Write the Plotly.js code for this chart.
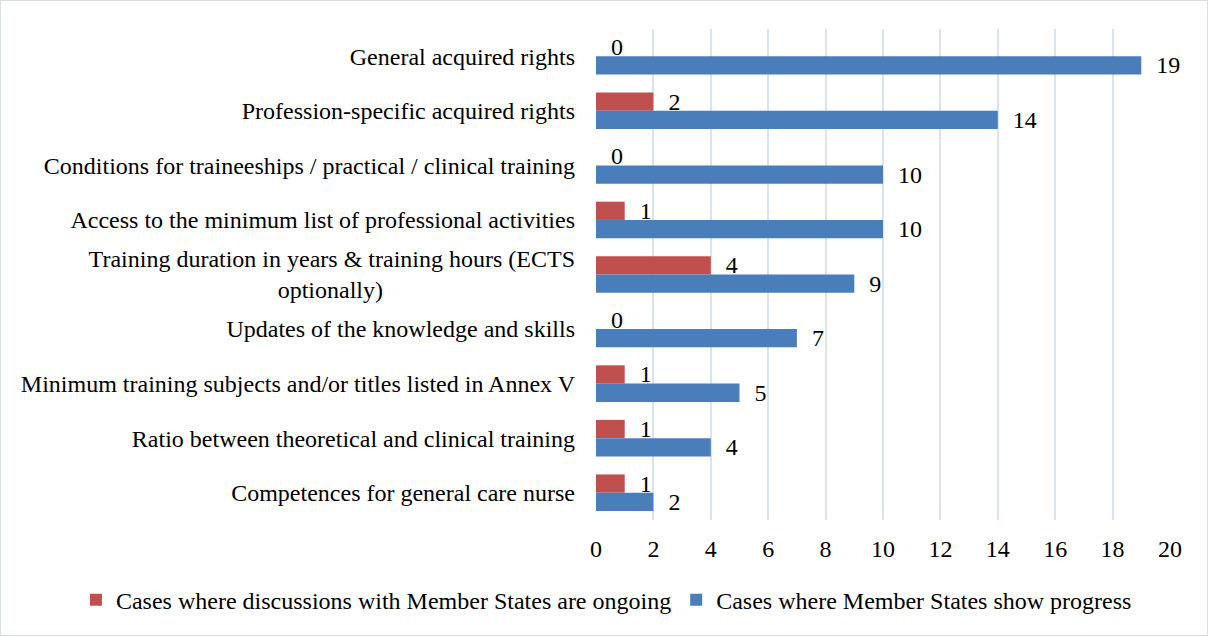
<!DOCTYPE html>
<html><head><meta charset="utf-8">
<script src="https://cdn.plot.ly/plotly-3.0.1.min.js"></script>
<style>
html,body{margin:0;padding:0;background:#fff;}
#frame{position:absolute;left:0;top:0;width:1206px;height:634px;border:1px solid #d9dde8;}
#chart{width:1208px;height:636px;position:absolute;left:-1px;top:-1px;}
</style></head>
<body><div id="frame"><div id="chart"></div></div>
<script>
const NB = "\u00a0";
const categories = [
  "General acquired rights",
  "Profession-specific acquired rights",
  "Conditions for traineeships / practical / clinical training",
  "Access to the minimum list of professional activities",
  "Training duration in years & training hours (ECTS<br>optionally)" + NB.repeat(32),
  "Updates of the knowledge and skills",
  "Minimum training subjects and/or titles listed in Annex V",
  "Ratio between theoretical and clinical training",
  "Competences for general care nurse"
];
const ongoing = [0, 2, 0, 1, 4, 0, 1, 1, 1];
const progress = [19, 14, 10, 10, 9, 7, 5, 4, 2];
const seriesNames = ["Cases where discussions with Member States are ongoing", "Cases where Member States show progress"];
const xTicks = [0, 2, 4, 6, 8, 10, 12, 14, 16, 18, 20];

const font = {family: "Liberation Serif, Times New Roman, serif", size: 24, color: "#000"};
const traces = [
  {type: "bar", orientation: "h", name: seriesNames[0], y: categories, x: ongoing,
   marker: {color: "#c0504d"}, texttemplate: NB + NB + "%{x}", textposition: "outside",
   constraintext: "none", textfont: font, cliponaxis: false, hoverinfo: "x"},
  {type: "bar", orientation: "h", name: seriesNames[1], y: categories, x: progress,
   marker: {color: "#4a7ebb"}, texttemplate: NB + NB + "%{x}", textposition: "outside",
   constraintext: "none", textfont: font, cliponaxis: false, hoverinfo: "x"}
];
const layout = {
  width: 1208, height: 636,
  margin: {l: 596, r: 38, t: 29, b: 116},
  barmode: "group", bargap: 0.33, bargroupgap: 0,
  font: font,
  paper_bgcolor: "rgba(0,0,0,0)", plot_bgcolor: "#fff",
  showlegend: true,
  legend: {orientation: "h", x: -0.906, xanchor: "left",
           y: -0.163, yanchor: "middle",
           font: font, traceorder: "normal", itemwidth: 30, bgcolor: "rgba(0,0,0,0)"},
  xaxis: {range: [0, 20], tickvals: xTicks, ticktext: xTicks.map(String),
          showgrid: true, gridcolor: "#d9e4f2", gridwidth: 2, zeroline: false,
          showline: false, ticks: "", tickfont: font, ticklabelstandoff: 12, fixedrange: true},
  yaxis: {autorange: "reversed", showgrid: false, zeroline: false, showline: false,
          ticks: "", ticklen: 0, tickfont: font, ticklabelstandoff: 20,
          automargin: false, fixedrange: true}
};
Plotly.newPlot("chart", traces, layout, {displayModeBar: false, staticPlot: true});
</script></body></html>
